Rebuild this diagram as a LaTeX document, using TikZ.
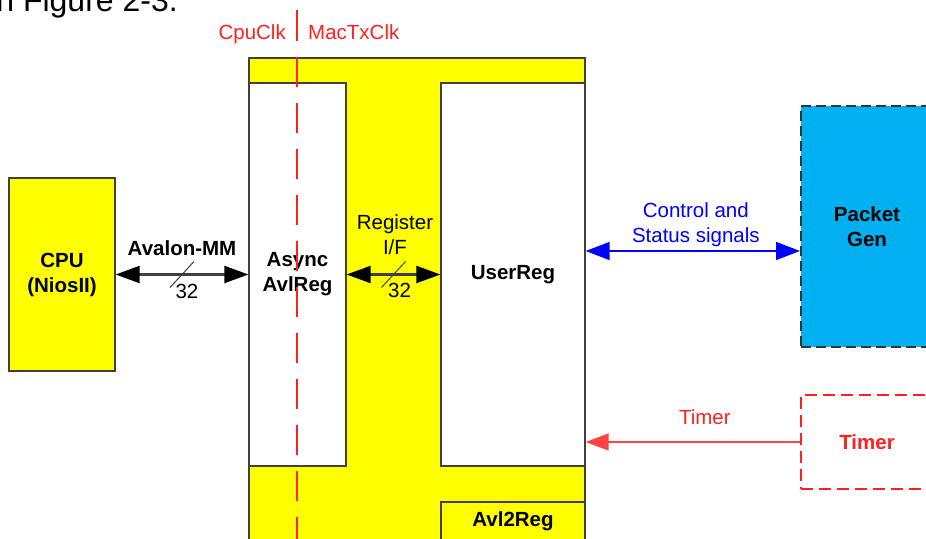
\documentclass[tikz,border=0pt]{standalone}
\usepackage{fontspec}
\setmainfont{Liberation Sans}
\usetikzlibrary{arrows.meta,calc}
\definecolor{boxyellow}{HTML}{FFFF00}
\definecolor{boxcyan}{HTML}{00B0F0}
\definecolor{edgegray}{HTML}{404040}
\definecolor{clkred}{HTML}{FF2020}
\definecolor{sigblue}{HTML}{0000FF}

\begin{document}
\begin{tikzpicture}[x=1pt, y=-1pt, line join=miter,
	font=\fontsize{20.5}{25}\selectfont,
	blk/.style={draw=edgegray, line width=1.3pt, align=center, inner sep=0pt, font=\fontsize{20.5}{25}\selectfont\bfseries},
	ybox/.style={blk, fill=boxyellow},
	wbox/.style={blk, fill=white},
	lbl/.style={inner sep=0pt, align=center},
	busarrow/.style={draw=edgegray, line width=2.2pt, {Triangle[length=24pt,width=17pt,color=black]}-{Triangle[length=24pt,width=17pt,color=black]}},
	ctlarrow/.style={sigblue, line width=1.4pt, {Triangle[length=24pt,width=18pt]}-{Triangle[length=24pt,width=18pt]}},
	timarrow/.style={clkred!85!white, line width=1.3pt, -{Triangle[length=23pt,width=17pt]}},
	clkline/.style={clkred, line width=1.8pt}]
	\useasboundingbox (0,0) rectangle (926,538);
	\clip (0,0) rectangle (926,538);
	\node[lbl, anchor=base east, font=\fontsize{32}{36}\selectfont] (fig) at (178,11) {in Figure 2-3.};
	% Avl2Reg
	\filldraw[fill=boxyellow, draw=edgegray, line width=1.3pt] (249,58) rectangle (585,545);
	\node[wbox, minimum width=97pt, minimum height=383pt] (async) at (297.5,274.5) {Async\\AvlReg};
	\node[wbox, minimum width=144pt, minimum height=383pt] (userreg) at (513,274.5) {UserReg};
	\node[ybox, minimum width=144pt, minimum height=38pt] (avlreg) at (513,521) {Avl2Reg};
	\node[ybox, minimum width=106pt, minimum height=193pt] (cpu) at (62,274.5) {CPU\\(NiosII)};
	\node[blk, fill=boxcyan, draw=black!80, line width=2pt, dash pattern=on 10pt off 5pt, minimum width=132pt, minimum height=241pt] (pktgen) at (867,226.5) {Packet\\Gen};
	\node[blk, draw=clkred, text=clkred, line width=2pt, dash pattern=on 12pt off 6pt, minimum width=132pt, minimum height=94pt] (timer) at (867,442) {Timer};

	\draw[busarrow] (cpu.east) -- (async.west) coordinate[midway] (mm);
	\draw[edgegray, line width=1pt] ($(mm)+(-12,13)$) -- ($(mm)+(12,-13)$);
	\node[lbl, font=\fontsize{20.5}{25}\selectfont\bfseries] (mmtxt) at ($(mm)+(0,-26)$) {Avalon-MM};
	\node[lbl] (mmw) at ($(mm)+(5,17)$) {32};

	\draw[busarrow] (async.east) -- (userreg.west) coordinate[midway] (rif);
	\draw[edgegray, line width=1pt] ($(rif)+(-12,13)$) -- ($(rif)+(12,-13)$);
	\node[lbl] (riftxt) at ($(rif)+(1.5,-39.5)$) {Register\\I/F};
	\node[lbl] (rifw) at ($(rif)+(6,16)$) {32};

	\coordinate (ctl) at (0,251);
	\draw[ctlarrow] (userreg.east |- ctl) -- (pktgen.west |- ctl) coordinate[midway] (cs);
	\node[lbl, text=sigblue] (cstxt) at ($(cs)+(3,-26)$) {Control and\\Status signals};

	\draw[timarrow] (timer.west) -- (userreg.east |- timer.west) coordinate[midway] (tm);
	\node[lbl, text=clkred] (tmtxt) at ($(tm)+(12,-25)$) {Timer};

	% clock domains
	\node[lbl, anchor=base east, text=clkred] (cpuclk) at (286,39.5) {CpuClk};
	\node[lbl, anchor=base west, text=clkred] (macclk) at (308,39.5) {MacTxClk};
	\draw[clkline] (297,10) -- (297,41);
	\draw[clkline, dash pattern=on 30pt off 16pt] (297,57) -- (297,545);
\end{tikzpicture}
\end{document}
